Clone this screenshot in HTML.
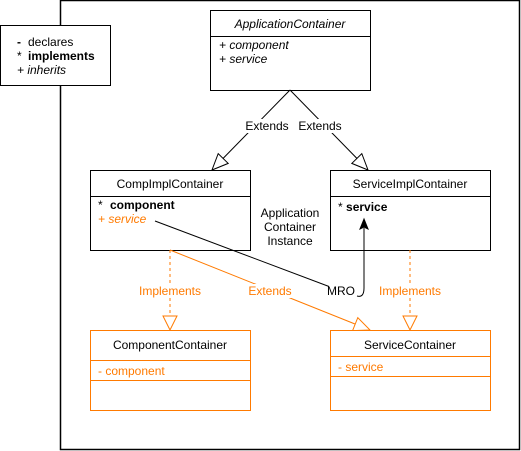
<!DOCTYPE html>
<html><head><style>body{margin:0;background:#fff}svg{display:block}text{font-family:"Liberation Sans",sans-serif;font-size:12px}</style></head>
<body>
<svg width="521" height="451" viewBox="0 0 521 451">
<rect x="60.5" y="0.5" width="459" height="449" fill="#fff" stroke="#000" stroke-width="1.5"/>
<!-- legend -->
<rect x="0.5" y="25.5" width="110" height="60" fill="#fff" stroke="#000"/>
<text x="17" y="46" font-weight="bold">-</text><text x="28" y="46">declares</text>
<text x="17" y="60">*</text><text x="28" y="60" font-weight="bold">implements</text>
<text x="17" y="74" font-style="italic">+ inherits</text>
<!-- ApplicationContainer -->
<rect x="210.5" y="10.5" width="160" height="80" fill="#fff" stroke="#000"/>
<line x1="210" y1="36.5" x2="370" y2="36.5" stroke="#000"/>
<text x="290" y="28" text-anchor="middle" font-style="italic">ApplicationContainer</text>
<text x="219" y="49" font-style="italic">+ component</text>
<text x="219" y="63" font-style="italic">+ service</text>
<!-- extends top -->
<line x1="290" y1="90" x2="223" y2="158.5" stroke="#000"/>
<polygon points="212,170 228.2,163.4 218.2,153.6" fill="#fff" stroke="#000"/>
<line x1="290" y1="90" x2="357" y2="158.5" stroke="#000"/>
<polygon points="368,170 351.8,163.4 361.8,153.6" fill="#fff" stroke="#000"/>
<rect x="240" y="119" width="56" height="14" fill="#fff"/>
<text x="267" y="130" text-anchor="middle">Extends</text>
<rect x="298" y="119" width="44" height="14" fill="#fff"/>
<text x="320" y="130" text-anchor="middle">Extends</text>
<!-- CompImplContainer -->
<rect x="90.5" y="170.5" width="160" height="80" fill="#fff" stroke="#000"/>
<line x1="90" y1="196.5" x2="250" y2="196.5" stroke="#000"/>
<text x="170" y="188" text-anchor="middle">CompImplContainer</text>
<text x="98" y="209">*</text><text x="110" y="209" font-weight="bold">component</text>
<text x="98" y="223" font-style="italic" style="fill:#ff7a00">+ service</text>
<!-- ServiceImplContainer -->
<rect x="330.5" y="170.5" width="160" height="80" fill="#fff" stroke="#000"/>
<line x1="330" y1="196.5" x2="490" y2="196.5" stroke="#000"/>
<text x="410" y="188" text-anchor="middle">ServiceImplContainer</text>
<text x="338" y="211">* <tspan font-weight="bold">service</tspan></text>
<!-- app container instance -->
<text x="290" y="217" text-anchor="middle">Application</text>
<text x="290" y="231" text-anchor="middle">Container</text>
<text x="290" y="245" text-anchor="middle">Instance</text>
<!-- orange connectors -->
<line x1="170" y1="250" x2="170" y2="316" stroke="#ff7a00" stroke-dasharray="3,3"/>
<polygon points="170,330 163,316 177,316" fill="#fff" stroke="#ff7a00"/>
<line x1="410" y1="250" x2="410" y2="316" stroke="#ff7a00" stroke-dasharray="3,3"/>
<polygon points="410,330 403,316 417,316" fill="#fff" stroke="#ff7a00"/>
<line x1="170" y1="250" x2="355" y2="324" stroke="#ff7a00"/>
<polygon points="370,330 352.6,330.6 357.8,317.6" fill="#fff" stroke="#ff7a00"/>
<!-- MRO line -->
<line x1="155" y1="221" x2="333" y2="288" stroke="#000"/>
<path d="M357,296 Q364,298 364,288 L364,228" fill="none" stroke="#000"/>
<polygon points="364,219 360,229 364,227 368,229" fill="#000" stroke="#000"/>
<rect x="141" y="284" width="58" height="14" fill="#fff"/>
<text x="170" y="295" text-anchor="middle" fill="#ff7a00">Implements</text>
<rect x="247" y="284" width="46" height="14" fill="#fff"/>
<text x="270" y="295" text-anchor="middle" fill="#ff7a00">Extends</text>
<rect x="381" y="284" width="58" height="14" fill="#fff"/>
<text x="410" y="295" text-anchor="middle" fill="#ff7a00">Implements</text>
<rect x="329" y="284" width="26" height="14" fill="#fff"/>
<text x="341" y="295" text-anchor="middle">MRO</text>
<!-- ComponentContainer -->
<rect x="90.5" y="330.5" width="160" height="80" fill="#fff" stroke="#ff7a00"/>
<line x1="90" y1="360.5" x2="250" y2="360.5" stroke="#ff7a00"/>
<line x1="90" y1="380.5" x2="250" y2="380.5" stroke="#ff7a00"/>
<text x="170" y="349" text-anchor="middle">ComponentContainer</text>
<text x="98" y="375" fill="#ff7a00">- component</text>
<!-- ServiceContainer -->
<rect x="330.5" y="330.5" width="160" height="80" fill="#fff" stroke="#ff7a00"/>
<line x1="330" y1="356.5" x2="490" y2="356.5" stroke="#ff7a00"/>
<line x1="330" y1="376.5" x2="490" y2="376.5" stroke="#ff7a00"/>
<text x="410" y="349" text-anchor="middle">ServiceContainer</text>
<text x="338" y="371" fill="#ff7a00">- service</text>
</svg>
</body></html>
